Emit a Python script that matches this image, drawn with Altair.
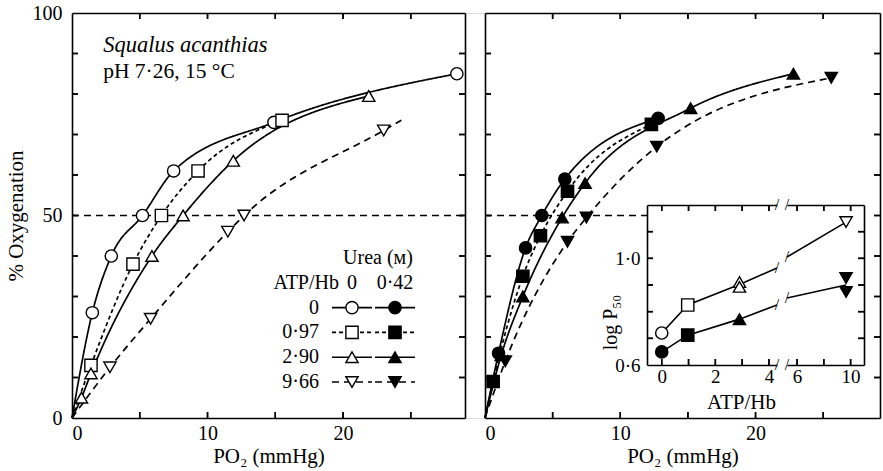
import altair as alt
import pandas as pd

# ---------------- data ----------------
ATP_LEVELS = ["0", "0·97", "2·90", "9·66"]
UREA_LEVELS = ["0", "0·42"]
SHAPES = ["circle", "square", "triangle-up", "triangle-down"]
DASHES = [[1, 0], [4, 3], [1, 0], [7, 5]]

# left panel: urea 0 (open symbols); PO2 (mmHg) vs % oxygenation
L0_X = [1.5, 2.9, 5.2, 7.5, 14.9, 28.4]
L0_Y = [26, 40, 50, 61, 73, 85]
L097_X = [1.4, 4.5, 6.6, 9.3, 15.5]
L097_Y = [13, 38, 50, 61, 73.5]
L290_X = [0.7, 1.4, 5.9, 8.2, 11.9, 21.9]
L290_Y = [5, 11, 40, 50, 63.5, 79.5]
L966_X = [2.8, 5.8, 11.5, 12.7, 23.0]
L966_Y = [12.5, 24.5, 46, 50, 71]
L966_TAIL_X = [24.3]
L966_TAIL_Y = [73.5]

# right panel: urea 0.42 M (filled symbols)
R0_X = [1.0, 3.0, 4.2, 5.9, 12.8]
R0_Y = [16, 42, 50, 59, 74]
R097_X = [0.6, 2.8, 4.1, 6.1, 12.3]
R097_Y = [9, 35, 45, 56, 72.5]
R290_X = [1.2, 2.8, 5.7, 7.4, 15.2, 22.8]
R290_Y = [15.5, 30, 49.5, 58, 76.5, 85]
R966_X = [1.5, 6.1, 7.5, 12.7, 25.6]
R966_Y = [14, 43.5, 49.5, 67, 84]

HALF_SAT = 50
L_RULE_X = [0, 29]
R_RULE_X = [0, 12.07]

# inset: log P50 vs ATP/Hb
INS_OPEN_ATP = [0, 0.97, 2.90, 2.90, 9.66]
INS_OPEN_LOGP = [0.72, 0.825, 0.911, 0.893, 1.136]
INS_OPEN_SHAPE = ["0", "0·97", "2·90", "2·90", "9·66"]
INS_FILL_ATP = [0, 0.97, 2.90, 9.66, 9.66]
INS_FILL_LOGP = [0.649, 0.712, 0.772, 0.926, 0.874]
INS_FILL_SHAPE = ["0", "0·97", "2·90", "9·66", "9·66"]
INS_OPEN_LINE_A_ATP = [0, 0.97, 2.90, 4.3]
INS_OPEN_LINE_A_LOGP = [0.72, 0.825, 0.902, 0.964]
INS_OPEN_LINE_B_ATP = [5.25, 9.66]
INS_OPEN_LINE_B_LOGP = [1.005, 1.136]
INS_FILL_LINE_A_ATP = [0, 0.97, 2.90, 4.3]
INS_FILL_LINE_A_LOGP = [0.649, 0.712, 0.772, 0.825]
INS_FILL_LINE_B_ATP = [5.25, 9.66]
INS_FILL_LINE_B_LOGP = [0.851, 0.90]
BREAK_A_ATP = [4.3, 4.3, 4.3, 4.3]
BREAK_A_LOGP = [0.964, 0.825, 0.6, 1.2]
BREAK_B_ATP = [5.25, 5.25, 5.25, 5.25]
BREAK_B_LOGP = [1.005, 0.851, 0.6, 1.2]

# tick values
MAIN_X_LABELS = [0, 10, 20]
MAIN_X_TICKS = [5, 10, 15, 20, 25]
MAIN_Y_LABELS = [0, 50, 100]
MAIN_Y_TICKS = [10, 20, 30, 40, 50, 60, 70, 80, 90]
INS_XA_LABELS = [0, 2, 4]
INS_XA_TICKS = [0, 1, 2, 3, 4]
INS_XB_LABELS = [6, 10]
INS_XB_TICKS = [6, 8, 10]
INS_Y_LABELS = [0.6, 1.0]
INS_Y_TICKS = [0.7, 0.8, 0.9, 1.0, 1.1]

SPECIES = "Squalus acanthias"
CONDITIONS = "pH 7·26, 15 °C"
LEG_HEAD = "Urea (ᴍ)"
LEG_ATP = "ATP/Hb"

X_TITLE = "PO₂ (mmHg)"
Y_TITLE = "% Oxygenation"
INS_X_TITLE = "ATP/Hb"
INS_Y_TITLE = "log P₅₀"

# ---------------- layout (pixels inside the view) ----------------
W, H = 808, 405
XL_DOM, XL_RNG = [0, 29], [0, 393]
XR_DOM, XR_RNG = [0, 29.2], [413, 808]
Y_DOM, Y_RNG = [0, 100], [405, 0]
XIA_DOM, XIA_RNG = [-0.55, 4.3], [575, 705]
XIB_DOM, XIB_RNG = [5.25, 11.0], [715, 792]
YI_DOM, YI_RNG = [0.6, 1.2], [352, 192]
LEG_X_RNG = [280, 323]
LEG_Y_RNG = [245, 369]
LEG_ROWS = [LEG_HEAD, LEG_ATP] + ATP_LEVELS
FONT = "Liberation Serif"
TICK = 6      # tick length in pixels
TICK_W = 1.5  # tick thickness in pixels


def sc(dom, rng):
    return alt.Scale(domain=dom, range=rng, nice=False, zero=False)


def ax(orient, offset=0, values=None, labels=False, domain=True, **kw):
    d = dict(orient=orient, offset=offset, labels=labels, ticks=False, domain=domain,
             grid=False, domainColor="black", domainWidth=1.6)
    if values is not None:
        d["values"] = values
    d.update(kw)
    return alt.Axis(**d)


def df(xs, ys, atp, urea):
    return pd.DataFrame({"x": xs, "y": ys, "atp": atp, "urea": urea})


def per_px(dom, rng):
    return (dom[1] - dom[0]) / abs(rng[1] - rng[0])


def tick_layers(xdom, xrng, ydom, yrng, xvals=(), yvals=(), bottom=True, top=True, left=True, right=True):
    """inward tick marks of one frame, drawn as thin rules and thin filled rects"""
    ux, uy = per_px(xdom, xrng), per_px(ydom, yrng)
    dx, dy = TICK * ux, TICK * uy
    hx, hy = TICK_W * ux / 2, TICK_W * uy / 2
    rows = []
    for v in xvals:
        if bottom:
            rows.append((v, v, ydom[0], ydom[0] + dy, v - hx, v + hx, ydom[0], ydom[0] + dy))
        if top:
            rows.append((v, v, ydom[1], ydom[1] - dy, v - hx, v + hx, ydom[1] - dy, ydom[1]))
    for v in yvals:
        if left:
            rows.append((xdom[0], xdom[0] + dx, v, v, xdom[0], xdom[0] + dx, v - hy, v + hy))
        if right:
            rows.append((xdom[1], xdom[1] - dx, v, v, xdom[1] - dx, xdom[1], v - hy, v + hy))
    d = pd.DataFrame(rows, columns=["xa", "xb", "ya", "yb", "rxa", "rxb", "rya", "ryb"])
    rule = alt.Chart(d).mark_rule(color="black", strokeWidth=TICK_W).encode(
        x=alt.X("xa:Q", scale=sc(xdom, xrng), axis=None), x2="xb:Q",
        y=alt.Y("ya:Q", scale=sc(ydom, yrng), axis=None), y2="yb:Q")
    rect = alt.Chart(d).mark_rect(color="black", opacity=1).encode(
        x=alt.X("rxa:Q", scale=sc(xdom, xrng), axis=None), x2="rxb:Q",
        y=alt.Y("rya:Q", scale=sc(ydom, yrng), axis=None), y2="ryb:Q")
    return [rect, rule]


shape_enc = alt.Shape("atp:N", scale=alt.Scale(domain=ATP_LEVELS, range=SHAPES), legend=None)
dash_enc = alt.StrokeDash("atp:N", scale=alt.Scale(domain=ATP_LEVELS, range=DASHES), legend=None)
fill_enc = alt.Fill("urea:N", scale=alt.Scale(domain=UREA_LEVELS, range=["white", "black"]), legend=None)

LINE = dict(color="black", strokeWidth=1.7, interpolate="monotone")
PT = dict(filled=True, stroke="black", strokeWidth=1.4, size=150, opacity=1)

sets_l = [(L0_X, L0_Y, "0"), (L097_X, L097_Y, "0·97"), (L290_X, L290_Y, "2·90"), (L966_X, L966_Y, "9·66")]
sets_r = [(R0_X, R0_Y, "0"), (R097_X, R097_Y, "0·97"), (R290_X, R290_Y, "2·90"), (R966_X, R966_Y, "9·66")]

left_pts = pd.concat([df(x, y, a, "0") for x, y, a in sets_l])
right_pts = pd.concat([df(x, y, a, "0·42") for x, y, a in sets_r])
left_lines = pd.concat(
    [df([0] + x + (L966_TAIL_X if a == "9·66" else []), [0] + y + (L966_TAIL_Y if a == "9·66" else []), a, "0")
     for x, y, a in sets_l])
right_lines = pd.concat([df([0] + x, [0] + y, a, "0·42") for x, y, a in sets_r])

# ---- left panel ----
L_lines = alt.Chart(left_lines).mark_line(**LINE).encode(
    x=alt.X("x:Q", scale=sc(XL_DOM, XL_RNG), title=X_TITLE,
            axis=ax("bottom", values=MAIN_X_LABELS, labels=True, labelPadding=5, titlePadding=2)),
    y=alt.Y("y:Q", scale=sc(Y_DOM, Y_RNG), title=Y_TITLE,
            axis=ax("left", values=MAIN_Y_LABELS, labels=True, labelPadding=10, titlePadding=6)),
    strokeDash=dash_enc, detail="atp:N")
L_pts = alt.Chart(left_pts).mark_point(**PT).encode(
    x=alt.X("x:Q", scale=sc(XL_DOM, XL_RNG), axis=None),
    y=alt.Y("y:Q", scale=sc(Y_DOM, Y_RNG), axis=None),
    shape=shape_enc, fill=fill_enc)
L_rule = alt.Chart(pd.DataFrame({"x0": [L_RULE_X[0]], "x1": [L_RULE_X[1]], "y": [HALF_SAT]})).mark_rule(
    color="black", strokeWidth=1.4, strokeDash=[7, 5]).encode(
    x=alt.X("x0:Q", scale=sc(XL_DOM, XL_RNG), title=None, axis=ax("bottom", offset=-H, values=[])),
    x2="x1:Q",
    y=alt.Y("y:Q", scale=sc(Y_DOM, Y_RNG), title=None, axis=ax("left", offset=-XL_RNG[1], values=[])))
annot = pd.DataFrame({"t": [SPECIES, CONDITIONS], "x": [2.3, 2.3], "y": [90.4, 84.0]})
L_txt1 = alt.Chart(annot.iloc[[0]]).mark_text(align="left", baseline="alphabetic", fontSize=22.5,
                                               fontStyle="italic", font=FONT, color="black").encode(
    x=alt.X("x:Q", scale=sc(XL_DOM, XL_RNG), axis=None),
    y=alt.Y("y:Q", scale=sc(Y_DOM, Y_RNG), axis=None), text="t:N")
L_txt2 = alt.Chart(annot.iloc[[1]]).mark_text(align="left", baseline="alphabetic", fontSize=21.5,
                                               font=FONT, color="black").encode(
    x=alt.X("x:Q", scale=sc(XL_DOM, XL_RNG), axis=None),
    y=alt.Y("y:Q", scale=sc(Y_DOM, Y_RNG), axis=None), text="t:N")
L_ticks = tick_layers(XL_DOM, XL_RNG, Y_DOM, Y_RNG, MAIN_X_TICKS, MAIN_Y_TICKS)

# ---- right panel ----
R_lines = alt.Chart(right_lines).mark_line(**LINE).encode(
    x=alt.X("x:Q", scale=sc(XR_DOM, XR_RNG), title=X_TITLE,
            axis=ax("bottom", values=MAIN_X_LABELS, labels=True, labelPadding=5, titlePadding=2)),
    y=alt.Y("y:Q", scale=sc(Y_DOM, Y_RNG), title=None,
            axis=ax("right", offset=-(W - XR_RNG[0]), values=[])),
    strokeDash=dash_enc, detail="atp:N")
R_pts = alt.Chart(right_pts).mark_point(**PT).encode(
    x=alt.X("x:Q", scale=sc(XR_DOM, XR_RNG), axis=None),
    y=alt.Y("y:Q", scale=sc(Y_DOM, Y_RNG), title=None, axis=ax("left", offset=-W, values=[])),
    shape=shape_enc, fill=fill_enc)
R_rule = alt.Chart(pd.DataFrame({"x0": [R_RULE_X[0]], "x1": [R_RULE_X[1]], "y": [HALF_SAT]})).mark_rule(
    color="black", strokeWidth=1.4, strokeDash=[7, 5]).encode(
    x=alt.X("x0:Q", scale=sc(XR_DOM, XR_RNG), title=None, axis=ax("bottom", offset=-H, values=[])),
    x2="x1:Q",
    y=alt.Y("y:Q", scale=sc(Y_DOM, Y_RNG), axis=None))
R_ticks = tick_layers(XR_DOM, XR_RNG, Y_DOM, Y_RNG, MAIN_X_TICKS, MAIN_Y_TICKS)

# ---- legend ----
leg = pd.DataFrame([{"row": a, "col": u, "atp": a, "urea": u} for a in ATP_LEVELS for u in UREA_LEVELS])
LX = lambda f: alt.X(f, type="nominal", scale=alt.Scale(type="point", domain=UREA_LEVELS, range=LEG_X_RNG, padding=0), axis=None)
LY = lambda f: alt.Y(f, type="nominal", scale=alt.Scale(type="point", domain=LEG_ROWS, range=LEG_Y_RNG, padding=0), axis=None)
G_lines = alt.Chart(leg).mark_rule(color="black", strokeWidth=1.6, xOffset=-20, x2Offset=20).encode(
    x=LX("col"), x2="col:N", y=LY("row"), strokeDash=dash_enc)
G_pts = alt.Chart(leg).mark_point(**PT).encode(x=LX("col"), y=LY("row"), shape=shape_enc, fill=fill_enc)
TXT = dict(font=FONT, fontSize=20, color="black", baseline="middle")
G_rowlab = alt.Chart(pd.DataFrame({"row": ATP_LEVELS, "col": ["0"] * 4})).mark_text(
    align="right", dx=-33, **TXT).encode(x=LX("col"), y=LY("row"), text="row:N")
G_colhead = alt.Chart(pd.DataFrame({"row": [LEG_ATP] * 2, "col": UREA_LEVELS})).mark_text(
    align="center", **TXT).encode(x=LX("col"), y=LY("row"), text="col:N")
G_atp = alt.Chart(pd.DataFrame({"row": [LEG_ATP], "col": ["0"]})).mark_text(
    align="right", dx=-13, **TXT).encode(x=LX("col"), y=LY("row"), text="row:N")
G_urea = alt.Chart(pd.DataFrame({"row": [LEG_HEAD], "col": ["0·42"]})).mark_text(
    align="center", dx=-17, **TXT).encode(x=LX("col"), y=LY("row"), text="row:N")

# ---- inset ----
def idf(xs, ys, atp, urea):
    return pd.DataFrame({"x": xs, "y": ys, "atp": atp, "urea": urea})

ins_pts = pd.concat([idf(INS_OPEN_ATP, INS_OPEN_LOGP, INS_OPEN_SHAPE, "0"),
                     idf(INS_FILL_ATP, INS_FILL_LOGP, INS_FILL_SHAPE, "0·42")])
ins_pts_a = ins_pts[ins_pts.x <= XIA_DOM[1]]
ins_pts_b = ins_pts[ins_pts.x >= XIB_DOM[0]]
ins_line_a = pd.concat([idf(INS_OPEN_LINE_A_ATP, INS_OPEN_LINE_A_LOGP, "o", "0"),
                        idf(INS_FILL_LINE_A_ATP, INS_FILL_LINE_A_LOGP, "f", "0·42")])
ins_line_b = pd.concat([idf(INS_OPEN_LINE_B_ATP, INS_OPEN_LINE_B_LOGP, "o", "0"),
                        idf(INS_FILL_LINE_B_ATP, INS_FILL_LINE_B_LOGP, "f", "0·42")])
brk_a = pd.DataFrame({"x": BREAK_A_ATP, "y": BREAK_A_LOGP})
brk_b = pd.DataFrame({"x": BREAK_B_ATP, "y": BREAK_B_LOGP})
DEC = "replace(format(datum.value, '.1f'), '.', '·')"

I_lines_a = alt.Chart(ins_line_a).mark_line(color="black", strokeWidth=1.6).encode(
    x=alt.X("x:Q", scale=sc(XIA_DOM, XIA_RNG), title=INS_X_TITLE,
            axis=ax("bottom", offset=-(H - YI_RNG[0]), values=INS_XA_LABELS, labels=True,
                    labelPadding=2, labelFontSize=19, titleX=669, titleY=37, titleBaseline="middle",
                    titleAlign="center", titleFontSize=21)),
    y=alt.Y("y:Q", scale=sc(YI_DOM, YI_RNG), title=INS_Y_TITLE,
            axis=ax("left", offset=-XIA_RNG[0], values=INS_Y_LABELS, labels=True, labelFontSize=19,
                    labelPadding=7, labelExpr=DEC, titleX=-37, titleY=309,
                    titleAngle=270, titleBaseline="middle", titleAlign="center", titleFontSize=20)),
    detail="atp:N")
I_pts_a = alt.Chart(ins_pts_a).mark_point(**PT).encode(
    x=alt.X("x:Q", scale=sc(XIA_DOM, XIA_RNG), axis=None),
    y=alt.Y("y:Q", scale=sc(YI_DOM, YI_RNG), axis=None),
    shape=shape_enc, fill=fill_enc)
I_brk_a = alt.Chart(brk_a).mark_text(text="/", fontSize=16, font=FONT, color="black").encode(
    x=alt.X("x:Q", scale=sc(XIA_DOM, XIA_RNG), title=None,
            axis=ax("bottom", offset=-(H - YI_RNG[1]), values=[])),
    y=alt.Y("y:Q", scale=sc(YI_DOM, YI_RNG), title=None,
            axis=ax("left", offset=-XIB_RNG[1], values=[])))
I_lines_b = alt.Chart(ins_line_b).mark_line(color="black", strokeWidth=1.6).encode(
    x=alt.X("x:Q", scale=sc(XIB_DOM, XIB_RNG), title=None,
            axis=ax("bottom", offset=-(H - YI_RNG[0]), values=INS_XB_LABELS, labels=True,
                    labelPadding=2, labelFontSize=19)),
    y=alt.Y("y:Q", scale=sc(YI_DOM, YI_RNG), axis=None),
    detail="atp:N")
I_pts_b = alt.Chart(ins_pts_b).mark_point(**PT).encode(
    x=alt.X("x:Q", scale=sc(XIB_DOM, XIB_RNG), axis=None),
    y=alt.Y("y:Q", scale=sc(YI_DOM, YI_RNG), axis=None),
    shape=shape_enc, fill=fill_enc)
I_brk_b = alt.Chart(brk_b).mark_text(text="/", fontSize=16, font=FONT, color="black").encode(
    x=alt.X("x:Q", scale=sc(XIB_DOM, XIB_RNG), title=None,
            axis=ax("bottom", offset=-(H - YI_RNG[1]), values=[])),
    y=alt.Y("y:Q", scale=sc(YI_DOM, YI_RNG), axis=None))
IA_ticks = tick_layers(XIA_DOM, XIA_RNG, YI_DOM, YI_RNG, INS_XA_TICKS, INS_Y_TICKS, right=False)
IB_ticks = tick_layers(XIB_DOM, XIB_RNG, YI_DOM, YI_RNG, INS_XB_TICKS, INS_Y_TICKS, left=False)

chart = alt.layer(
    *L_ticks, L_rule, L_lines, L_pts, L_txt1, L_txt2,
    *R_ticks, R_rule, R_lines, R_pts,
    G_lines, G_pts, G_rowlab, G_colhead, G_atp, G_urea,
    *IA_ticks, *IB_ticks, I_lines_a, I_pts_a, I_brk_a, I_lines_b, I_pts_b, I_brk_b,
).resolve_scale(x="independent", y="independent").resolve_axis(
    x="independent", y="independent"
).properties(
    width=W, height=H,
    autosize=alt.AutoSizeParams(type="none"),
    padding={"left": 72, "top": 13, "right": 3, "bottom": 53},
).configure_view(stroke=None).configure(font=FONT, background="white").configure_axis(
    labelFont=FONT, titleFont=FONT, labelFontSize=20, titleFontSize=21, titleFontWeight="normal",
    labelColor="black", titleColor="black"
)

chart.save("out.html", embed_options={"renderer": "svg", "actions": False})
